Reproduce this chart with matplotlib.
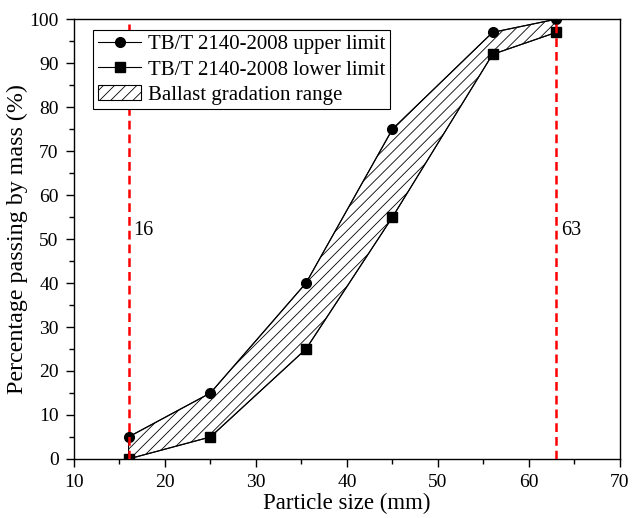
import matplotlib
matplotlib.use("AGG")
import matplotlib.pyplot as plt
from matplotlib.ticker import MultipleLocator
from matplotlib.patches import Patch
from matplotlib.lines import Line2D

sizes = [16, 25, 35.5, 45, 56, 63]
upper = [5, 15, 40, 75, 97, 100]
lower = [0, 5, 25, 55, 92, 97]
limits = [16, 63]

plt.rcParams["font.family"] = ["Liberation Serif", "DejaVu Serif"]
plt.rcParams["hatch.linewidth"] = 0.6

fig = plt.figure(figsize=(6.32, 5.18), dpi=100)
ax = fig.add_axes([0.117, 0.114, 0.864, 0.849])

# gradation band
poly_x = sizes + sizes[::-1]
poly_y = upper + lower[::-1]
ax.fill(poly_x, poly_y, facecolor="none", edgecolor="black", hatch="///", linewidth=0.8)

ax.plot(sizes, upper, "-o", color="black", lw=0.8, ms=7)
ax.plot(sizes, lower, "-s", color="black", lw=0.8, ms=6.5)

for v in limits:
    ax.axvline(v, color="red", ls=(0, (3.5, 2)), lw=1.8, zorder=5)
    ax.text(v + 0.5, 52, str(v), fontsize=14.5, va="center", ha="left")

ax.set_xlim(10, 70)
ax.set_ylim(0, 100)
ax.xaxis.set_major_locator(MultipleLocator(10))
ax.xaxis.set_minor_locator(MultipleLocator(5))
ax.yaxis.set_major_locator(MultipleLocator(10))
ax.yaxis.set_minor_locator(MultipleLocator(5))
ax.tick_params(which="major", direction="out", length=6, width=1, labelsize=14, pad=5)
ax.tick_params(which="minor", direction="out", length=3.5, width=1)
for s in ax.spines.values():
    s.set_linewidth(1)
ax.set_xlabel("Particle size (mm)", fontsize=16.5, labelpad=1)
ax.set_ylabel("Percentage passing by mass (%)", fontsize=17.3, labelpad=1)

handles = [
    Line2D([], [], color="black", marker="o", lw=0.8, ms=7),
    Line2D([], [], color="black", marker="s", lw=0.8, ms=6.5),
    Patch(facecolor="none", edgecolor="black", hatch="///", linewidth=0.8),
]
labels = ["TB/T 2140-2008 upper limit", "TB/T 2140-2008 lower limit", "Ballast gradation range"]
leg = ax.legend(handles, labels, loc="upper left", bbox_to_anchor=(0.035, 0.975), fontsize=15,
                frameon=True, fancybox=False, edgecolor="black", framealpha=1,
                handlelength=2.1, handletextpad=0.3, borderpad=0.22, labelspacing=0.27,
                borderaxespad=0.0)
leg.get_frame().set_linewidth(0.8)

fig.savefig("out.png", dpi=100)
